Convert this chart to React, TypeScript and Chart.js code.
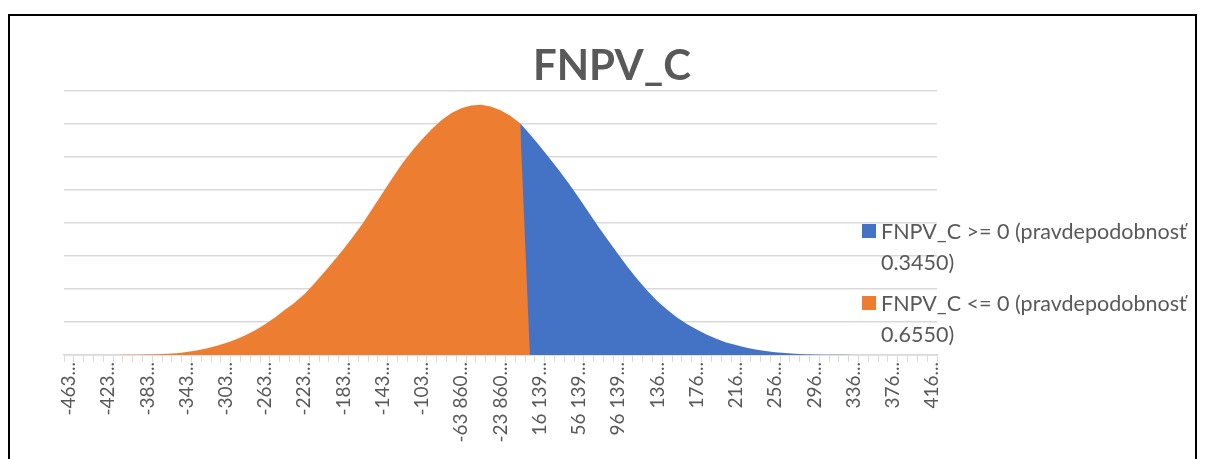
import React, { useEffect, useRef } from "react";
import { Chart, registerables } from "chart.js";

Chart.register(...registerables);

// Category values of the x axis (FNPV_C), one per area-chart point
const categories = [
  -463860, -453860, -443860, -433860, -423860, -413860, -403860, -393860, -383860, -373860,
  -363860, -353860, -343860, -333860, -323860, -313860, -303860, -293860, -283860, -273860,
  -263860, -253860, -243860, -233860, -223860, -213860, -203860, -193860, -183860, -173860,
  -163860, -153860, -143860, -133860, -123860, -113860, -103860, -93860, -83860, -73860,
  -63860, -53860, -43860, -33860, -23860, -13860, -3860, 6139, 16139, 26139,
  36139, 46139, 56139, 66139, 76139, 86139, 96139, 106139, 116139, 126139,
  136139, 146139, 156139, 166139, 176139, 186139, 196139, 206139, 216139, 226139,
  236139, 246139, 256139, 266139, 276139, 286139, 296139, 306139, 316139, 326139,
  336139, 346139, 356139, 366139, 376139, 386139, 396139, 406139, 416139,
];

// Shown tick labels (every 4th category), as truncated in the original
const tickLabels = [
  "-463...", "-423...", "-383...", "-343...", "-303...", "-263...", "-223...", "-183...",
  "-143...", "-103...", "-63 860...", "-23 860...", "16 139...", "56 139...", "96 139...",
  "136...", "176...", "216...", "256...", "296...", "336...", "376...", "416...",
];

// Density (one gridline = 1 unit)
const density = [
  0, 0, 0, 0, 0.001, 0.003, 0.005, 0.008, 0.013, 0.022,
  0.035, 0.055, 0.09, 0.14, 0.2, 0.27, 0.36, 0.47, 0.6, 0.75,
  0.93, 1.14, 1.36, 1.58, 1.84, 2.16, 2.5, 2.85, 3.21, 3.6,
  4.01, 4.46, 4.92, 5.37, 5.81, 6.19, 6.54, 6.85, 7.12, 7.33,
  7.48, 7.56, 7.58, 7.53, 7.42, 7.25, 7.02, 6.69, 6.33, 5.96,
  5.58, 5.18, 4.76, 4.32, 3.88, 3.46, 3.05, 2.65, 2.28, 1.94,
  1.63, 1.37, 1.14, 0.94, 0.77, 0.62, 0.49, 0.38, 0.3, 0.23,
  0.17, 0.12, 0.085, 0.058, 0.04, 0.026, 0.016, 0.01, 0.006, 0.004,
  0.002, 0.001, 0, 0, 0, 0, 0, 0, 0,
];

const seriesNames = [
  "FNPV_C >= 0 (pravdepodobnosť 0.3450)",
  "FNPV_C <= 0 (pravdepodobnosť 0.6550)",
];
const legendLines = [
  ["FNPV_C >= 0 (pravdepodobnosť", "0.3450)"],
  ["FNPV_C <= 0 (pravdepodobnosť", "0.6550)"],
];
const seriesColors = ["#4472C4", "#ED7D31"];
const chartTitle = "FNPV_C";

const FONT = "Lato, 'Open Sans', sans-serif";
const TEXT = "#595959";
const GRID = "#d9d9d9";

export default function App() {
  const ref = useRef<HTMLCanvasElement | null>(null);

  useEffect(() => {
    if (!ref.current) return;
    // last category <= 0
    let lastNeg = 0;
    categories.forEach((c, i) => {
      if (c <= 0) lastNeg = i;
    });
    const negData = density.map((v, i) => (i <= lastNeg ? v : i === lastNeg + 1 ? 0 : null));
    const posData = density.map((v, i) => (i >= lastNeg ? v : null));

    const chart = new Chart(ref.current, {
      type: "line",
      data: {
        labels: categories.map((c) => String(c)),
        datasets: [
          {
            label: seriesNames[1],
            data: negData,
            fill: "origin",
            backgroundColor: seriesColors[1],
            borderColor: "rgba(0,0,0,0)",
            borderWidth: 0,
            pointRadius: 0,
            tension: 0,
            spanGaps: false,
          },
          {
            label: seriesNames[0],
            data: posData,
            fill: "origin",
            backgroundColor: seriesColors[0],
            borderColor: "rgba(0,0,0,0)",
            borderWidth: 0,
            pointRadius: 0,
            tension: 0,
            spanGaps: false,
          },
        ],
      },
      options: {
        animation: false,
        responsive: false,
        events: [],
        layout: { padding: { left: 54, right: 258, top: 75, bottom: 0 } },
        plugins: {
          legend: { display: false },
          title: { display: false },
          tooltip: { enabled: false },
        },
        scales: {
          x: {
            type: "category",
            offset: true,
            grid: {
              display: true,
              drawOnChartArea: false,
              drawTicks: true,
              tickLength: 7,
              color: GRID,
              offset: true,
            },
            border: { display: true, color: GRID, width: 1.5 },
            ticks: {
              autoSkip: false,
              minRotation: 90,
              maxRotation: 90,
              padding: 0,
              color: TEXT,
              font: { family: FONT, size: 19 },
              callback: (_v: any, i: number) => (i % 4 === 0 ? tickLabels[i / 4] : ""),
            },
            afterFit: (s: any) => {
              s.height = 104;
            },
          },
          y: {
            min: 0,
            max: 8,
            ticks: { display: false, stepSize: 1 },
            grid: { color: GRID, drawTicks: false, lineWidth: 1.5 },
            border: { display: false },
            afterFit: (s: any) => {
              s.width = 0;
            },
          },
        },
      },
    });
    return () => chart.destroy();
  }, []);

  return (
    <div
      style={{
        position: "fixed",
        left: 8,
        top: 14,
        width: 1189,
        height: 445,
        boxSizing: "border-box",
        borderLeft: "2px solid #000",
        borderTop: "2px solid #000",
        borderRight: "2px solid #000",
        background: "#fff",
        fontFamily: FONT,
      }}
    >
      <canvas ref={ref} width={1185} height={443} style={{ position: "absolute", left: 0, top: 0 }} />
      <div
        style={{
          position: "absolute",
          left: 302,
          top: 27,
          width: 600,
          textAlign: "center",
          fontSize: 42,
          lineHeight: "42px",
          fontWeight: 700,
          color: TEXT,
        }}
      >
        {chartTitle}
      </div>
      {legendLines.map((lines, k) => (
        <div
          key={k}
          style={{
            position: "absolute",
            left: 852,
            top: k === 0 ? 199.5 : 271.5,
            display: "flex",
            alignItems: "flex-start",
            whiteSpace: "nowrap",
          }}
        >
          <div
            style={{
              width: 14,
              height: 14,
              marginTop: 8.5,
              marginRight: 5,
              background: seriesColors[k],
            }}
          />
          <div style={{ fontSize: 21.5, lineHeight: "31px", color: TEXT }}>
            {lines.map((l, j) => (
              <div key={j}>{l}</div>
            ))}
          </div>
        </div>
      ))}
    </div>
  );
}
